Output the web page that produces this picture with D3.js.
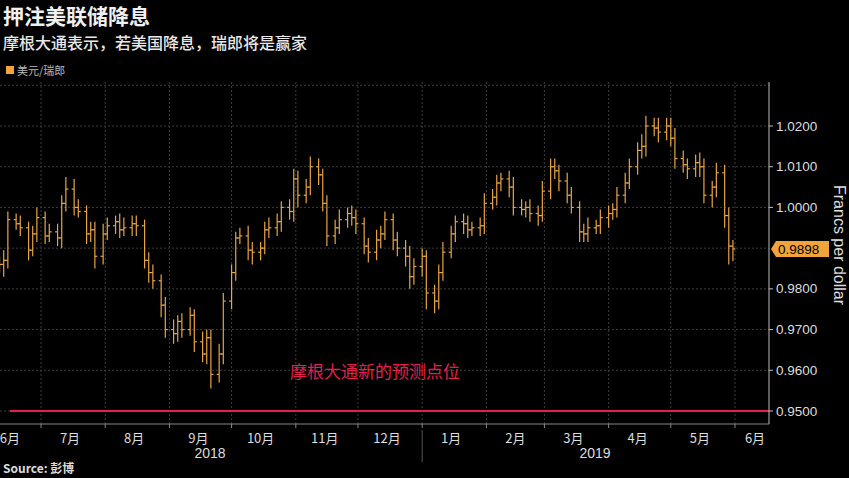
<!DOCTYPE html>
<html><head><meta charset="utf-8">
<script src="https://cdn.jsdelivr.net/npm/d3@7"></script>
<style>body{margin:0;background:#000}svg{display:block}</style>
</head><body><svg id="c" width="849" height="478"></svg>
<script>
const title = "押注美联储降息";
const subtitle = "摩根大通表示，若美国降息，瑞郎将是赢家";
const legendLabel = "美元/瑞郎";
const source = "Source: 彭博";
const targetLabel = "摩根大通新的预测点位";
const targetValue = 0.95;
const lastValue = 0.9898;
const yTicks = [0.95,0.96,0.97,0.98,0.99,1.00,1.01,1.02];
const yLabelTicks = [0.95,0.96,0.97,0.98,1.00,1.01,1.02];
const monthLabels = ["6月","7月","8月","9月","10月","11月","12月","1月","2月","3月","4月","5月","6月"];
const yearLabels = ["2018","2019"];
const startDate = "2018-06-11";
// closes, one bar per two trading days
const closes = [0.9860,0.9870,0.9970,0.9960,0.9950,0.9895,0.9935,0.9975,0.9930,0.9940,0.9925,1.0010,1.0045,1.0000,0.9990,0.9935,0.9945,0.9880,0.9935,0.9955,0.9965,0.9945,0.9950,0.9960,0.9955,0.9870,0.9840,0.9820,0.9760,0.9700,0.9690,0.9720,0.9700,0.9735,0.9670,0.9640,0.9680,0.9590,0.9640,0.9770,0.9840,0.9925,0.9930,0.9895,0.9890,0.9900,0.9945,0.9950,0.9965,1.0000,0.9990,1.0070,1.0030,1.0050,1.0100,1.0080,1.0010,0.9930,0.9950,0.9970,0.9985,0.9975,0.9960,0.9905,0.9890,0.9920,0.9935,0.9970,0.9920,0.9900,0.9880,0.9830,0.9855,0.9880,0.9790,0.9770,0.9840,0.9890,0.9935,0.9965,0.9960,0.9945,0.9950,0.9955,1.0010,1.0025,1.0060,1.0070,1.0050,1.0000,0.9995,1.0000,0.9985,0.9980,1.0040,1.0100,1.0090,1.0065,1.0030,1.0000,0.9940,0.9935,0.9950,0.9955,0.9975,0.9985,0.9995,1.0030,1.0060,1.0100,1.0140,1.0150,1.0200,1.0195,1.0185,1.0200,1.0170,1.0120,1.0105,1.0095,1.0110,1.0100,1.0030,1.0050,1.0085,0.9980,0.9905,0.9898];
// wick extensions beyond open/close, in pips
const hiPips = [20,25,20,15,20,15,20,25,15,20,20,20,30,25,20,15,20,20,25,20,15,20,25,20,20,15,20,20,15,20,25,15,20,20,15,25,20,20,25,20,20,15,20,25,20,15,20,25,20,15,20,25,20,20,25,20,15,20,20,25,15,20,20,15,20,25,20,20,15,20,20,25,20,20,15,20,20,25,20,15,20,20,15,20,25,20,20,15,20,25,20,15,20,20,25,20,20,15,20,20,15,20,25,15,20,20,15,20,25,20,20,30,25,20,25,20,20,25,20,15,20,25,20,15,25,20,20,15];
const loPips = [20,30,20,15,20,25,15,20,20,15,20,25,20,20,15,25,20,30,20,15,20,20,15,20,25,20,25,20,30,20,25,20,20,15,25,20,25,35,20,25,20,20,15,25,30,20,15,20,20,25,20,25,30,20,20,25,20,25,20,15,20,20,25,20,25,20,20,15,25,20,25,30,20,25,40,30,20,20,15,20,25,20,15,20,20,15,20,20,25,20,15,20,20,25,15,20,20,25,20,15,25,20,20,15,20,25,15,20,20,15,20,20,25,20,25,20,20,25,20,25,20,25,20,30,25,30,45,30];

const svg = d3.select("#c");
const plotL=0, plotR=769, plotT=82, plotB=424;
// trading dates: every second weekday from start
let d = new Date(startDate+"T00:00:00"), dates=[], wdCount=0;
while(dates.length<closes.length){ const wd=d.getDay(); if(wd!==0&&wd!==6){ if(wdCount%2===0) dates.push(new Date(d)); wdCount++; } d=d3.timeDay.offset(d,1); }
const x = d3.scaleTime().domain([new Date(2018,6,1), new Date(2019,5,1)]).range([41,735]);
const y = d3.scaleLinear().domain([0.95,1.02]).range([411,126]);

const months = d3.timeMonth.range(new Date(2018,6,1), new Date(2019,5,2));
svg.append("g").selectAll("line").data(months).join("line")
  .attr("x1",m=>x(m)).attr("x2",m=>x(m)).attr("y1",plotT).attr("y2",plotB)
  .attr("stroke","#3c3c3c").attr("stroke-dasharray","2,2");
svg.append("g").selectAll("line").data(yTicks.concat([1.03])).join("line")
  .attr("x1",plotL).attr("x2",plotR).attr("y1",v=>y(v)).attr("y2",v=>y(v))
  .attr("stroke","#3c3c3c").attr("stroke-dasharray","2,2");

const col="#e9a443";
const bars = closes.map((c,i)=>{const o=i?closes[i-1]:c;return {t:dates[i],o,c,h:Math.max(o,c)+hiPips[i]/10000,l:Math.min(o,c)-loPips[i]/10000};});
const g=svg.append("g").attr("stroke",col).attr("stroke-width",1.2);
bars.forEach(b=>{
  const cx=x(b.t);
  g.append("line").attr("x1",cx).attr("x2",cx).attr("y1",y(b.h)).attr("y2",y(b.l));
  g.append("line").attr("x1",cx-2.5).attr("x2",cx).attr("y1",y(b.o)).attr("y2",y(b.o));
  g.append("line").attr("x1",cx).attr("x2",cx+2.5).attr("y1",y(b.c)).attr("y2",y(b.c));
});

svg.append("line").attr("x1",10).attr("x2",plotR).attr("y1",y(targetValue)).attr("y2",y(targetValue))
  .attr("stroke","#e3204d").attr("stroke-width",2.2);
svg.append("text").attr("x",290).attr("y",378).attr("fill","#e3204d")
  .attr("font-family","Noto Sans CJK SC").attr("font-size",17).text(targetLabel);

svg.append("line").attr("x1",plotR).attr("x2",plotR).attr("y1",plotT).attr("y2",plotB).attr("stroke","#bbb");
const ya=svg.append("g").attr("font-family","Liberation Sans Narrow, Arial Narrow, sans-serif").attr("font-size",13.5).attr("fill","#ddd");
yLabelTicks.forEach(v=>{
  ya.append("line").attr("x1",plotR).attr("x2",plotR+4).attr("y1",y(v)).attr("y2",y(v)).attr("stroke","#bbb");
  ya.append("text").attr("x",plotR+7).attr("y",y(v)+4.5).text(d3.format(".4f")(v));
});
const ly=y(lastValue);
svg.append("path").attr("d",`M${plotR+2},${ly} L${plotR+7},${ly-8} H${plotR+60} V${ly+8} H${plotR+7} Z`).attr("fill","#f2a33a");
svg.append("text").attr("x",plotR+9).attr("y",ly+5).attr("font-family","Liberation Sans Narrow, sans-serif").attr("font-size",13.5).attr("fill","#000").text(d3.format(".4f")(lastValue));
svg.append("text").attr("transform",`translate(834,245) rotate(90)`).attr("text-anchor","middle")
  .attr("font-family","Liberation Sans, sans-serif").attr("font-size",16).attr("fill","#ddd").text("Francs per dollar");

svg.append("line").attr("x1",0).attr("x2",plotR).attr("y1",plotB).attr("y2",plotB).attr("stroke","#888");
svg.append("g").selectAll("line").data(months).join("line")
  .attr("x1",m=>x(m)).attr("x2",m=>x(m)).attr("y1",plotB).attr("y2",plotB+4).attr("stroke","#888");
const labelDates = [new Date(2018,5,16)].concat(months.map(m=>d3.timeDay.offset(m,14)));
svg.append("g").selectAll("text").data(monthLabels).join("text")
  .attr("x",(s,i)=>Math.min(x(labelDates[i]),755)).attr("y",443).attr("text-anchor","middle")
  .attr("font-family","Noto Sans CJK SC").attr("font-size",13).attr("fill","#ddd").text(s=>s);
svg.append("line").attr("x1",x(new Date(2019,0,1))).attr("x2",x(new Date(2019,0,1))).attr("y1",430).attr("y2",462).attr("stroke","#555");
svg.append("text").attr("x",210).attr("y",458).attr("text-anchor","middle").attr("font-family","Liberation Sans Narrow, sans-serif").attr("font-size",14).attr("fill","#ddd").text(yearLabels[0]);
svg.append("text").attr("x",595).attr("y",458).attr("text-anchor","middle").attr("font-family","Liberation Sans Narrow, sans-serif").attr("font-size",14).attr("fill","#ddd").text(yearLabels[1]);

svg.append("text").attr("x",3).attr("y",24).attr("font-family","Noto Sans CJK SC").attr("font-weight",700).attr("font-size",21).attr("fill","#f0f0f0").text(title);
svg.append("text").attr("x",3).attr("y",49).attr("font-family","Noto Sans CJK SC").attr("font-weight",500).attr("font-size",16).attr("fill","#e8e8e8").text(subtitle);
svg.append("rect").attr("x",6).attr("y",66).attr("width",8).attr("height",8).attr("fill","#f2a33a");
svg.append("text").attr("x",17).attr("y",75).attr("font-family","Noto Sans CJK SC").attr("font-size",11).attr("fill","#bbb").text(legendLabel);
svg.append("text").attr("x",3).attr("y",473).attr("font-family","Noto Sans CJK SC").attr("font-weight",700).attr("font-size",12).attr("fill","#ddd").text(source);
</script></body></html>
